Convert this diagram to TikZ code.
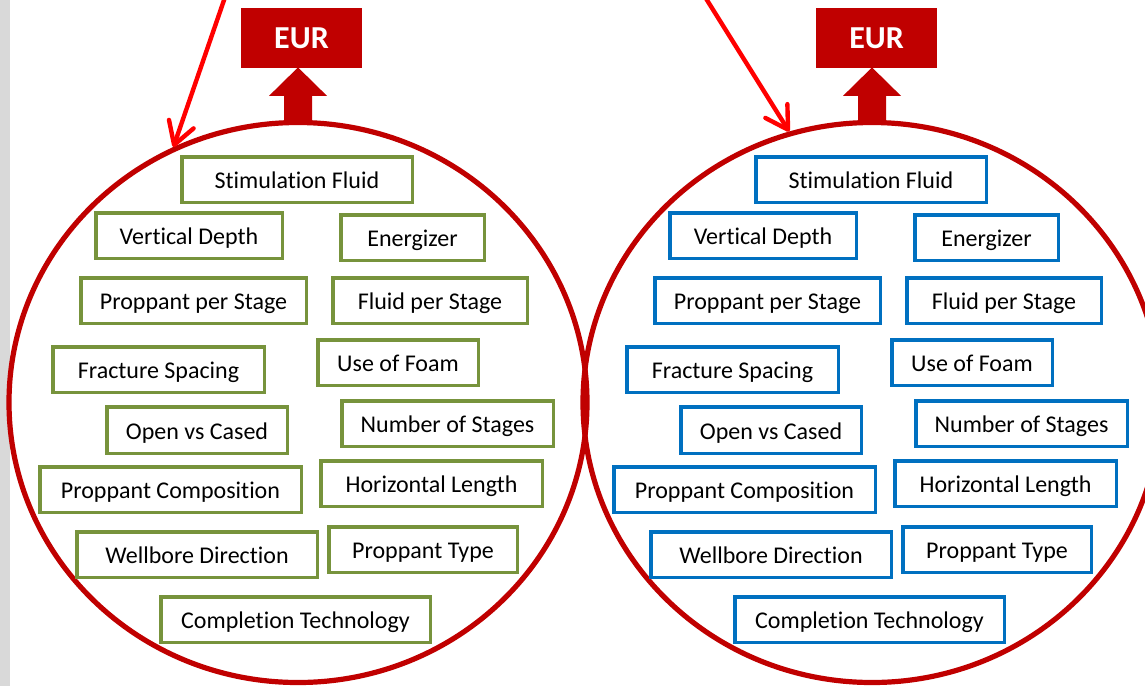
\documentclass[tikz,border=0pt]{standalone}
\usepackage{fontspec}
\setmainfont{Carlito}[Ligatures=NoCommon]
\usetikzlibrary{arrows.meta,shapes.geometric,calc}

\definecolor{ringred}{HTML}{C00000}
\definecolor{arrowred}{HTML}{FF0000}
\definecolor{olivegreen}{HTML}{77933C}
\definecolor{steelblue}{HTML}{0070C0}
\definecolor{stripgray}{HTML}{D9D9D9}

\tikzset{
  factor/.style={draw, line width=3.5pt, fill=white, inner sep=0pt, text=black,
    text height=18.5pt, text depth=0pt,
    font=\fontsize{24}{28}\selectfont},
  greenfactor/.style={factor, draw=olivegreen},
  bluefactor/.style={factor, draw=steelblue},
  eurbox/.style={fill=ringred, text=white, inner sep=0pt,
    text height=21pt, text depth=0pt,
    font=\bfseries\fontsize{32}{36}\selectfont},
  ring/.style={ellipse, draw=ringred, line width=5.2pt, inner sep=0pt,
    minimum width=578pt, minimum height=560pt},
  pointer/.style={draw=arrowred, line width=4.4pt,
    -{Straight Barb[length=22pt,width=26pt,round]}},
  uparrow/.style={fill=ringred},
}

% one factor box given by its outer corners (x1,y1) and (x2,y2)
\newcommand\factorbox[7]{%
  \node[#1, minimum width={#5-#3-3.5}, minimum height={#6-#4-3.5}]
    (#2) at ({(#3+#5)/2},{(#4+#6)/2}) {#7};}

% the fourteen factors inside one ring
\newcommand\factorset[2]{%
  \factorbox{#2}{#1-stim}{180}{155}{414}{204}{Stimulation Fluid}
  \factorbox{#2}{#1-vdepth}{94}{211}{284}{260}{Vertical Depth}
  \factorbox{#2}{#1-energ}{339}{213}{486}{262}{Energizer}
  \factorbox{#2}{#1-pps}{79}{276}{308}{325}{Proppant per Stage}
  \factorbox{#2}{#1-fps}{331}{276}{529}{325}{Fluid per Stage}
  \factorbox{#2}{#1-fspace}{51}{345}{266}{394}{Fracture Spacing}
  \factorbox{#2}{#1-foam}{316}{338}{480}{387}{Use of Foam}
  \factorbox{#2}{#1-open}{105}{405}{289}{455}{Open vs Cased}
  \factorbox{#2}{#1-nstage}{340}{399}{555}{448}{Number of Stages}
  \factorbox{#2}{#1-pcomp}{38}{465}{303}{514}{Proppant Composition}
  \factorbox{#2}{#1-hlen}{319}{459}{544}{508}{Horizontal Length}
  \factorbox{#2}{#1-wdir}{75}{530}{319}{579}{Wellbore Direction}
  \factorbox{#2}{#1-ptype}{327}{525}{519}{574}{Proppant Type}
  \factorbox{#2}{#1-ctech}{159}{595}{432}{644}{Completion Technology}}

% thick arrow rising from a ring to its EUR box
\newcommand\risearrow[1]{%
  \fill[uparrow] ($(#1.north)+(-14,4)$) -- ($(#1.north)+(-14,-24)$)
    -- ($(#1.north)+(-29,-24)$) -- ($(#1.north)+(0,-52.5)$)
    -- ($(#1.north)+(29,-24)$) -- ($(#1.north)+(14,-24)$)
    -- ($(#1.north)+(14,4)$) -- cycle;}

\begin{document}
\begin{tikzpicture}[x=1pt, y=-1pt]
  \useasboundingbox (0,0) rectangle (1145,686);
  \clip (0,0) rectangle (1145,686);
  \fill[white] (0,0) rectangle (1145,686);
  \fill[stripgray] (0,0) rectangle (10,686);

  % rings
  \node[ring] (ringL) at (298,402.5) {};
  \node[ring] (ringR) at (872,402.5) {};

  % thick arrows to EUR
  \risearrow{ringL}
  \risearrow{ringR}

  % EUR boxes
  \node[eurbox, minimum width=121pt, minimum height=60pt] (eurL) at (301.5,38) {EUR};
  \node[eurbox, minimum width=121pt, minimum height=60pt] (eurR) at (876.5,38) {EUR};

  % factor boxes
  \factorset{L}{greenfactor}
  \begin{scope}[xshift=574pt]
    \factorset{R}{bluefactor}
  \end{scope}

  % incoming pointers
  \coordinate (srcL) at (227.5,-10);
  \coordinate (srcR) at (700.7,-10);
  \draw[pointer] (srcL) -- (ringL.116);
  \draw[pointer] (srcR) -- (ringR.107);
\end{tikzpicture}
\end{document}
